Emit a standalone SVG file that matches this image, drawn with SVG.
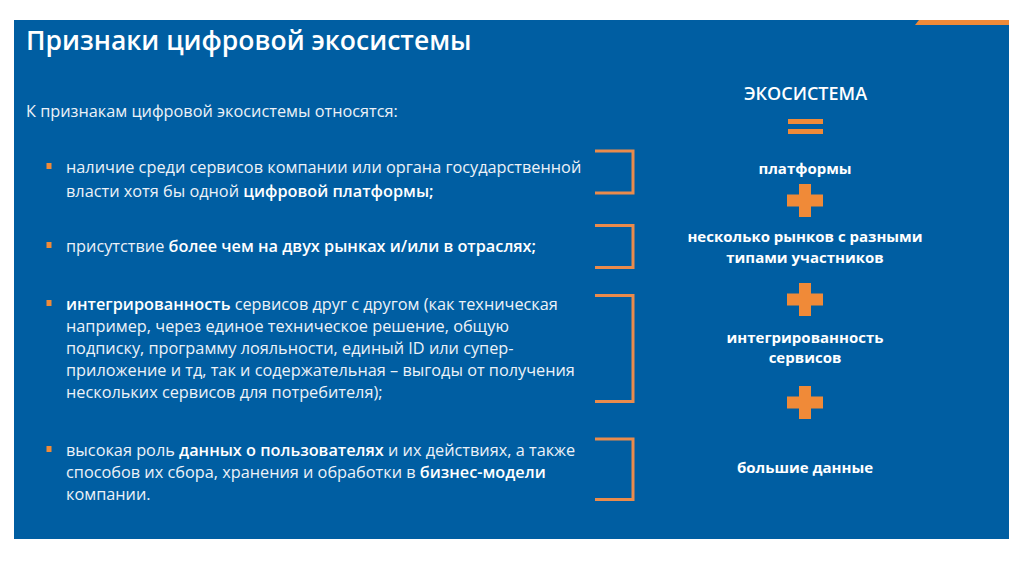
<svg xmlns="http://www.w3.org/2000/svg" width="1024" height="574" viewBox="0 0 1024 574">
<style>
.title{font-family:"Open Sans","Liberation Sans",sans-serif;font-weight:600;font-size:26.5px;fill:#ffffff}
.body{font-family:"Open Sans","Liberation Sans",sans-serif;font-size:16.3px;fill:#edf2f8}
.b{font-weight:600;fill:#ffffff}
.rc{font-family:"Open Sans","Liberation Sans",sans-serif;font-weight:700;font-size:15px;fill:#ffffff;text-anchor:middle}
.rh{font-family:"Open Sans","Liberation Sans",sans-serif;font-weight:600;font-size:18px;fill:#ffffff;text-anchor:middle}
.or{fill:#f08a38}
.br{fill:none;stroke:#ea8b4c;stroke-width:3}
</style>
<defs>
<path id="plus" d="M-6,-16.5h12v10.5h12v12h-12v10.5h-12v-10.5h-12v-12h12z" class="or"/>
</defs>
<rect x="0" y="0" width="1024" height="574" fill="#ffffff"/>
<rect x="14" y="20" width="995" height="519" fill="#005ea2"/>
<polygon points="919,20 1009,20 1009,25 915,25" class="or"/>
<g id="title">
<text class="title" x="26" y="50">Признаки цифровой экосистемы</text>
</g>
<g id="intro">
<text class="body" x="26" y="117">К признакам цифровой экосистемы относятся:</text>
</g>
<g id="item1">
<rect x="46.5" y="163" width="5" height="6" class="or"/>
<text class="body" x="66" y="173">наличие среди сервисов компании или органа государственной</text>
<text class="body" x="66" y="197">власти хотя бы одной <tspan class="b">цифровой платформы;</tspan></text>
</g>
<g id="item2">
<rect x="46.5" y="242" width="5" height="6" class="or"/>
<text class="body" x="66" y="252">присутствие <tspan class="b">более чем на двух рынках и/или в отраслях;</tspan></text>
</g>
<g id="item3">
<rect x="46.5" y="300" width="5" height="6" class="or"/>
<text class="body" x="66" y="310"><tspan class="b">интегрированность</tspan> сервисов друг с другом (как техническая</text>
<text class="body" x="66" y="332">например, через единое техническое решение,  общую</text>
<text class="body" x="66" y="354">подписку, программу лояльности, единый ID или супер-</text>
<text class="body" x="66" y="376">приложение и тд, так и содержательная – выгоды от получения</text>
<text class="body" x="66" y="398">нескольких сервисов для потребителя);</text>
</g>
<g id="item4">
<rect x="46.5" y="446" width="5" height="6" class="or"/>
<text class="body" x="66" y="456">высокая роль <tspan class="b">данных о пользователях</tspan> и их действиях, а также</text>
<text class="body" x="66" y="478">способов их сбора, хранения и обработки в <tspan class="b">бизнес-модели</tspan></text>
<text class="body" x="66" y="500">компании.</text>
</g>
<g id="connectors">
<path class="br" d="M595,151H633V193H595"/>
<path class="br" d="M595,225.5H633V267.5H595"/>
<path class="br" d="M595,295.5H633V401.5H595"/>
<path class="br" d="M595,439H633V499.5H595"/>
</g>
<g id="ecosystem">
<text class="rh" x="805.5" y="100">ЭКОСИСТЕМА</text>
<rect x="788" y="119" width="35" height="5" class="or"/>
<rect x="788" y="129" width="35" height="5" class="or"/>
</g>
<g id="platforms">
<text class="rc" x="805" y="174">платформы</text>
<use href="#plus" x="805" y="200.5"/>
</g>
<g id="markets">
<text class="rc" x="805" y="242">несколько рынков с разными</text>
<text class="rc" x="805" y="263">типами участников</text>
<use href="#plus" x="805" y="299.5"/>
</g>
<g id="integration">
<text class="rc" x="805" y="343">интегрированность</text>
<text class="rc" x="805" y="363">сервисов</text>
<use href="#plus" x="805" y="402.5"/>
</g>
<g id="bigdata">
<text class="rc" x="805" y="473">большие данные</text>
</g>
</svg>
